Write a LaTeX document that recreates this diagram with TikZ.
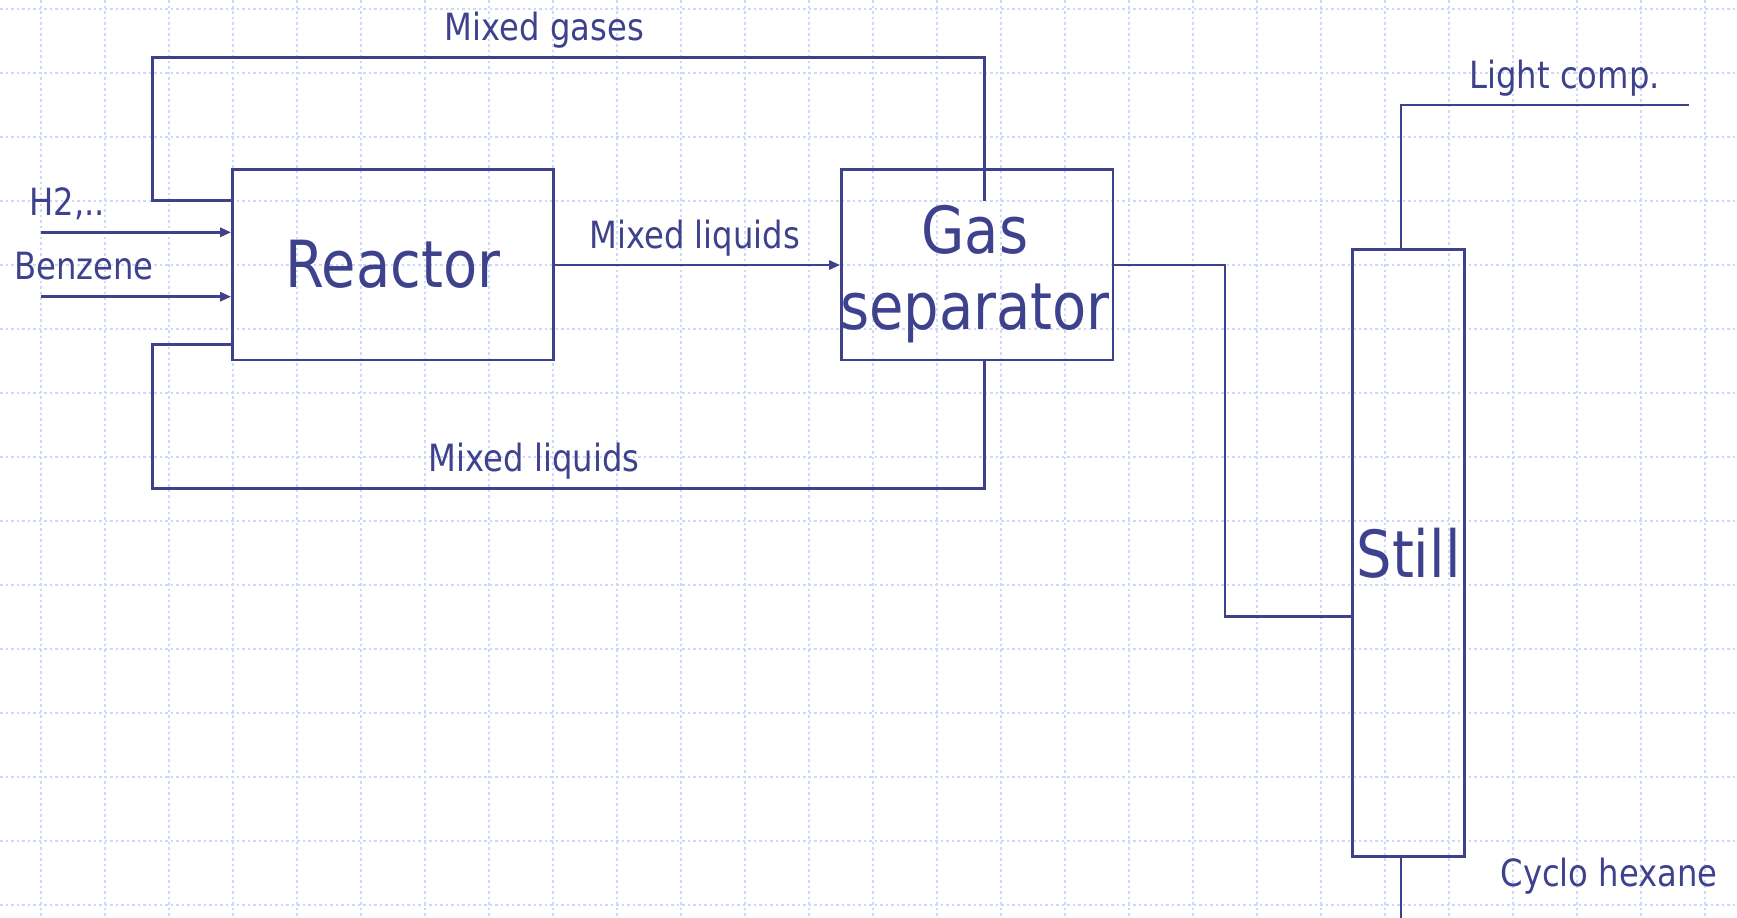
\documentclass[tikz,border=0pt]{standalone}
\usepackage{fontspec}
\setmainfont{DejaVu Sans}[FakeStretch=0.86]
\usetikzlibrary{arrows.meta}
\definecolor{streamblue}{RGB}{62,66,140}
\definecolor{gridblue}{RGB}{205,216,248}

\begin{document}
\begin{tikzpicture}[x=1pt,y=-1pt,line join=miter,
		flow/.style={draw=streamblue,line width=2.7pt},
		feed/.style={flow,-{Triangle[length=11pt,width=9pt]}},
		unitbox/.style={draw=streamblue,line width=2.7pt,inner sep=0pt,text=streamblue,font=\fontsize{65}{76.6}\selectfont},
		tag/.style={inner sep=0pt,anchor=base,text=streamblue,font=\fontsize{37.5}{40}\selectfont}]
	\useasboundingbox (0,0) rectangle (1737,918);
	% background grid
	\foreach \gx in {41,105,...,1705}
		\draw[gridblue,line width=2pt,dash pattern=on 2.5pt off 3pt] (\gx,0) -- (\gx,918);
	\foreach \gy in {9,73,...,905}
		\draw[gridblue,line width=2pt,dash pattern=on 2.5pt off 3pt] (0,\gy) -- (1737,\gy);
	% units
	\node[unitbox,minimum width=320.8pt,minimum height=190.7pt] (react) at (392.9,264.65) {Reactor};
	\node[unitbox,minimum width=271.5pt,minimum height=190.7pt] (gsep) at (977.3,264.65) {};
	\node[unitbox,draw=none,align=center] (gsepl) at (975,274) {Gas\\separator};
	\node[unitbox,minimum width=112.4pt,minimum height=607pt] (still) at (1408.5,552.8) {Still};
	% feeds
	\coordinate (h2in) at (40.7,232.3);
	\coordinate (bzin) at (40.7,296.7);
	\draw[feed] (h2in) -- (react.west |- h2in);
	\draw[feed] (bzin) -- (react.west |- bzin);
	\node[tag,anchor=base west] (h2l) at (29.3,215) {H2,..};
	\node[tag,anchor=base west] (bzl) at (14,279.3) {Benzene};
	% reactor -> separator
	\draw[feed] (react.east |- 0,265) -- (gsep.west |- 0,265);
	\node[tag] (mliq) at (694.7,248.3) {Mixed liquids};
	% recycle loops
	\coordinate (gtap) at (984.7,200.7);
	\draw[flow] (gtap) |- (152.7,57.3) |- (react.west |- gtap);
	\node[tag] (mgas) at (544.4,40) {Mixed gases};
	\draw[flow] (gsep.south -| gtap) |- (152.7,488.3) |- (react.west |- 0,344.3);
	\node[tag] (mliqb) at (534,471.7) {Mixed liquids};
	% separator -> still
	\draw[flow] (gsep.east |- 0,265) -| (1225,616.7) -- (still.west |- 0,616.7);
	% products
	\coordinate (lcout) at (1688.7,105);
	\coordinate (chout) at (1401,918);
	\draw[flow] (still.north -| chout) |- (lcout);
	\draw[flow] (still.south -| chout) -- (chout);
	\node[tag] (lcl) at (1564.6,88.3) {Light comp.};
	\node[tag] (chl) at (1609.2,886.7) {Cyclo hexane};
\end{tikzpicture}
\end{document}
